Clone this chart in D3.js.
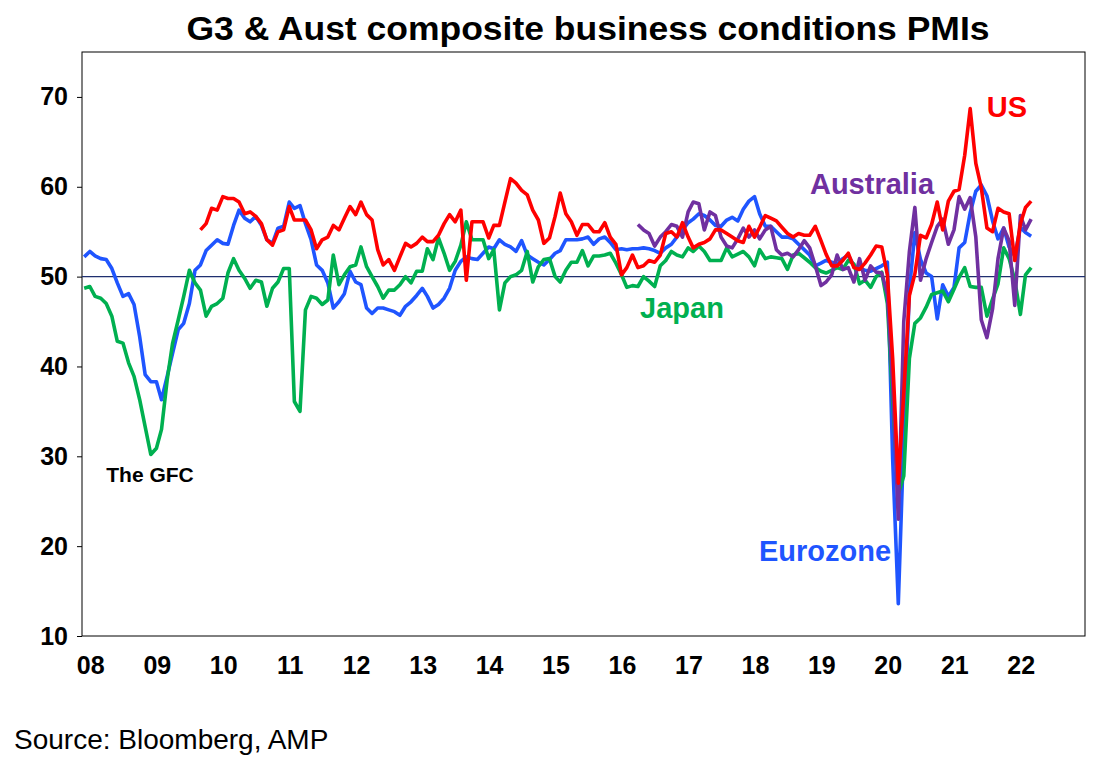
<!DOCTYPE html>
<html><head><meta charset="utf-8">
<script src="https://cdn.jsdelivr.net/npm/d3@7"></script>
<style>body{margin:0;background:#fff}svg{font-family:Arial,"Liberation Sans",sans-serif}</style>
</head><body><svg id="c" width="1111" height="766"></svg>
<script>
// Monthly values; first value of each series is at its start month (months since Jan 2008)
const euroStart = 0;
const euro = [52.2,52.8,52.3,52,51.9,50.9,49.3,47.8,48.1,46.9,43.3,39.1,38.3,38.3,36.3,38.9,41.5,44.1,44.8,47,50.7,51.3,52.9,53.5,
54.1,53.7,53.6,55.7,57.4,56.5,56.1,56.7,55.7,54.1,53.7,55.4,55.6,58.3,57.6,57.9,55.9,54.1,51.3,50.7,49.3,46.5,47.2,48.1,
50.6,49.4,49.1,46.5,45.9,46.5,46.5,46.3,46.1,45.7,46.7,47.2,47.9,48.7,47.8,46.5,46.9,47.6,48.7,50.7,51.7,52.2,52,51.9,
52.6,53.3,53.1,54.1,53.6,53.3,52.8,54,52.4,52,51.6,51.3,51.9,52.6,52.9,54.1,54.1,54.1,54.2,54.4,53.6,54.2,54.4,53.8,
53.0,53.1,53.0,53.1,53.1,53.2,53.1,52.9,52.6,53.2,53.6,54.4,55.2,56.0,56.4,57.0,56.8,56.3,55.7,55.6,56.3,56.6,56.2,57.5,
58.4,58.9,57.0,55.6,55.6,55.0,54.4,54.4,54.2,53.6,53.0,52.4,51.2,51.5,51.8,51.6,51.4,52.0,52.4,51.2,50.9,50.7,50.6,50.9,
51.2,51.6,29.7,13.6,31.9,48.5,54.9,51.9,50.4,50.0,45.3,49.1,47.8,48.8,53.2,53.8,57.1,59.5,60.2,59.0,56.2,54.2,55.4,53.3,
52.3,55.5,54.9,54.5];
const japanStart = 0;
const japan = [48.7,48.9,47.8,47.6,47,45.6,42.8,42.6,40.4,38.9,36.3,33.3,30.2,30.9,33,38.5,42.6,45.2,47.8,50.7,49.3,48.5,45.6,46.7,
47,47.6,50.4,52,50.7,49.8,48.7,49.6,49.4,46.7,48.7,49.4,50.9,50.9,36.1,35,46.3,47.8,47.6,46.9,47.4,52.4,49.1,50.2,
51.1,51.3,53.3,51.1,50,48.9,47.6,48.5,48.5,49.1,50,49.3,50.6,50.6,53.1,51.9,54.3,52.6,50.7,51.7,53.5,56.1,54.1,54.1,
54.1,52,53,46.3,49.3,50,50.2,50.7,52.8,49.4,51.1,51.9,52,50,49.4,50.7,51.6,51.6,52.9,51.2,52.3,52.3,52.4,52.6,
51.5,50.2,48.8,49,48.9,50,49.5,48.9,51.2,51.8,52.8,52.4,52.2,53.2,52.8,53.4,52.8,51.8,51.8,51.8,53.2,52.2,52.5,52.8,
52.2,51.2,53,52,52.2,52.1,52,50.8,52.4,52.6,52.1,51.6,51,50.6,50.4,50.7,51,50.8,51.8,51.4,49.2,49.6,48.8,50,
50.5,47,36.2,25.8,27.8,40.9,44.8,45.4,46.6,48,48.2,48.4,47.2,48.6,49.9,51,48.9,48.8,48.8,45.6,47.5,49.2,53.2,52,
49.6,45.8,50.2,51];
const usStart = 21;
const us = [55.2,55.9,57.6,57.4,58.9,58.7,58.7,58.3,57,57.2,56.7,55.9,54.1,53.5,55,55.2,57.8,56.3,56.3,56.3,
55.2,53.1,54.1,54.4,55.7,55.2,56.5,57.8,56.9,58.3,56.9,56.3,53,51.3,51.9,50.7,52.2,53.7,53.3,53.7,
54.4,53.9,53.9,54.6,55.9,56.9,56.1,57.4,49.6,56.1,56.1,56.1,54.3,55.7,55.7,58.3,60.9,60.4,59.6,59.1,
57.4,56.3,53.7,54.3,56.7,59.3,57,56.1,54.6,55.8,55.8,55,55,56,54.4,53.6,50.2,51,52.4,51,51.2,51.8,51.6,52.4,54.8,55,54.4,
56,54.4,53.2,53.6,53.8,54.2,55.2,55.2,54.8,54.4,54,53.8,55.6,54.4,55.5,56.8,56.5,56.2,55.5,54.8,54.4,54.8,54.6,54.6,
55.6,54,52.5,51.2,51.2,51.8,52.6,51,50.8,51.5,52.4,53.4,53.3,50.2,40.9,27,37,47.9,50.3,54.6,54.3,55.8,58.3,55.2,
58.4,59.5,59.7,63.5,68.7,62.6,59.9,55.4,55,57.6,57.2,57,51.8,55.9,57.7,58.4];
const ausStart = 100;
const aus = [55.8,55.2,54.8,53.4,54.4,55,55.8,55.6,54.4,57.2,58.3,58.1,55.2,57.2,56.8,54.4,53.4,53.2,54.2,55.4,
54.4,55.2,54.2,55.2,55.6,53,52.4,52.6,52.2,53,54,53.2,51.2,49,49.4,50.2,52.4,50.8,51,49.4,52,49.6,51.2,50.5,
50.4,48,38,23,45,52.8,57.7,49.6,52,53.8,55.6,56.4,53.6,55.2,58.9,57.5,58.8,54.4,45.2,43.2,46.4,52,55.4,54,
46.8,56.8,55.2,56.4];
const yearLabels = ["08","09","10","11","12","13","14","15","16","17","18","19","20","21","22"];
const yTicks = [10,20,30,40,50,60,70];

const svg = d3.select("#c");
const L=82,R=1085,T=52,B=636;
const x = d3.scaleTime().domain([new Date(2007,11,20),new Date(2023,0,22)]).range([L,R]);
const y = d3.scaleLinear().domain([10,75]).range([B,T]);
const md = i => new Date(2008, i, 1);

svg.append("text").attr("x",588).attr("y",40).attr("text-anchor","middle")
  .attr("font-size",34).attr("font-weight","bold").attr("textLength",803).attr("lengthAdjust","spacingAndGlyphs")
  .text("G3 & Aust composite business conditions PMIs");

svg.append("rect").attr("x",L).attr("y",T).attr("width",R-L).attr("height",B-T)
  .attr("fill","none").attr("stroke","#000").attr("stroke-width",1);

const ya = svg.append("g").attr("transform",`translate(${L},0)`)
  .call(d3.axisLeft(y).tickValues(yTicks).tickSize(5).tickPadding(9));
ya.select(".domain").remove();
ya.selectAll("text").attr("font-size",25).attr("font-weight","bold").attr("fill","#000").attr("font-family","Arial,'Liberation Sans',sans-serif");

const xa = svg.append("g").attr("transform",`translate(6,${B})`)
  .call(d3.axisBottom(x).tickValues(yearLabels.map((d,i)=>new Date(2008+i,0,1)))
    .tickFormat((d,i)=>yearLabels[i]).tickSize(0).tickPadding(20));
xa.select(".domain").remove();
xa.selectAll("text").attr("font-size",25).attr("font-weight","bold").attr("fill","#000").attr("font-family","Arial,'Liberation Sans',sans-serif");

svg.append("line").attr("x1",L).attr("x2",R).attr("y1",y(50)).attr("y2",y(50))
  .attr("stroke","#1F2F6F").attr("stroke-width",1.3);

const line = d3.line().x(d=>x(d[0])).y(d=>y(d[1]));
const series = [
  {v:euro,s:euroStart,c:"#1F55FF"},
  {v:japan,s:japanStart,c:"#00B050"},
  {v:aus,s:ausStart,c:"#7030A0"},
  {v:us,s:usStart,c:"#FF0000"}
];
series.forEach(se=>{
  svg.append("path").datum(se.v.map((v,i)=>[md(se.s+i),v]))
    .attr("d",line).attr("fill","none").attr("stroke",se.c)
    .attr("stroke-width",3.6).attr("stroke-linejoin","round");
});

const lab=(t,xx,yy,c,fs)=>svg.append("text").attr("x",xx).attr("y",yy).attr("text-anchor","middle")
  .attr("font-size",fs).attr("font-weight","bold").attr("fill",c).text(t);
lab("US",1007,117,"#FF0000",29);
lab("Australia",872,194,"#7030A0",29);
lab("Japan",682,318,"#00B050",29);
lab("Eurozone",825,561,"#1F55FF",29);
lab("The GFC",150,482,"#000",21);
svg.append("text").attr("x",14).attr("y",749).attr("font-size",28).text("Source: Bloomberg, AMP");
</script></body></html>
